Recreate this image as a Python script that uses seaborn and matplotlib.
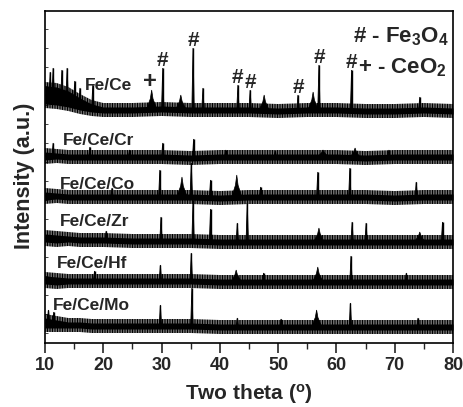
import numpy as np
import matplotlib
matplotlib.use("Agg")
import matplotlib.pyplot as plt
from matplotlib.ticker import MultipleLocator
import seaborn as sns

# ---- data (intensity in a.u., stacked) ----
grid_2theta = [10, 12, 14, 16, 18, 20, 25, 30, 35, 40, 45, 50, 55, 60, 65, 70, 75, 80]

samples = ["Fe/Ce", "Fe/Ce/Cr", "Fe/Ce/Co", "Fe/Ce/Zr", "Fe/Ce/Hf", "Fe/Ce/Mo"]

# baseline level of every pattern
base_fece = [248, 247, 244, 239, 235, 233, 233, 234, 233, 233, 233, 232, 233, 233, 232, 232, 233, 232]
base_cr = [187, 187, 186, 186, 186, 186, 186, 186, 185, 186, 186, 186, 186, 186, 185, 186, 186, 186]
base_co = [147, 147, 146, 146, 146, 146, 146, 146, 146, 145, 146, 146, 146, 146, 146, 145, 146, 146]
base_zr = [105, 104, 104, 103, 103, 103, 102, 102, 102, 101, 101, 101, 101, 101, 101, 101, 101, 101]
base_hf = [63, 62, 62, 62, 62, 62, 62, 62, 62, 61, 61, 61, 61, 61, 61, 61, 61, 61]
base_mo = [20, 19, 18, 18, 17, 17, 17, 17, 17, 16, 16, 16, 16, 16, 16, 16, 16, 16]

# half height of the noise band
noise_fece = [9, 9, 8, 6, 4, 3, 3, 3, 3, 3, 3, 3, 3, 3, 3, 3, 3, 3]
noise_cr = [4, 3, 3, 3, 3, 3, 3, 3, 3, 3, 3, 3, 3, 3, 3, 3, 3, 3]
noise_co = [4, 3, 3, 3, 3, 3, 3, 3, 3, 3, 3, 3, 3, 3, 3, 3, 3, 3]
noise_zr = [4, 4, 3, 3, 3, 3, 3, 3, 3, 3, 3, 3, 3, 3, 3, 3, 3, 3]
noise_hf = [4, 4, 3, 3, 3, 3, 3, 3, 3, 3, 3, 3, 3, 3, 3, 3, 3, 3]
noise_mo = [5, 4, 3, 3, 3, 3, 3, 3, 3, 3, 3, 3, 3, 3, 3, 3, 3, 3]

# sharp reflections / spikes: position (2theta) and top
peaks_fece_pos = [10.9, 11.4, 12.9, 13.8, 15.1, 16.0, 18.2, 30.2, 35.4, 37.1, 43.1, 45.2, 53.4, 57.0, 62.6, 74.3]
peaks_fece_top = [271, 275, 273, 275, 262, 255, 258, 275, 295, 255, 258, 253, 248, 278, 273, 246]
peaks_cr_pos = [11.4, 17.7, 24.5, 30.2, 35.5, 41.0, 49.5, 69.0]
peaks_cr_top = [200, 196, 193, 200, 204, 193, 192, 193]
peaks_co_pos = [21.5, 29.7, 35.1, 38.4, 47.0, 56.8, 62.3, 73.7]
peaks_co_top = [155, 173, 180, 163, 156, 171, 175, 161]
peaks_zr_pos = [20.5, 29.9, 35.4, 38.4, 43.0, 44.7, 62.7, 65.1, 78.2]
peaks_zr_top = [112, 126, 143, 134, 120, 140, 121, 120, 121]
peaks_hf_pos = [18.5, 29.8, 35.1, 47.5, 62.5, 72.0]
peaks_hf_top = [72, 78, 90, 70, 87, 70]
peaks_mo_pos = [10.6, 11.5, 29.8, 35.2, 43.0, 50.5, 62.4, 74.0]
peaks_mo_top = [33, 31, 38, 55, 25, 24, 40, 25]

# broad humps
humps_fece_pos = [28.3, 33.3, 47.6, 56.0]
humps_fece_top = [253, 248, 248, 251]
humps_cr_pos = [57.7, 63.2]
humps_cr_top = [193, 195]
humps_co_pos = [33.5, 42.9]
humps_co_top = [166, 168]
humps_zr_pos = [57.0, 74.3]
humps_zr_top = [115, 111]
humps_hf_pos = [42.8, 56.8]
humps_hf_top = [73, 76]
humps_mo_pos = [56.6]
humps_mo_top = [33]

# phase markers on the Fe/Ce pattern
fe3o4_marks = [30.2, 35.4, 43.1, 45.2, 53.4, 57.0, 62.6]
ceo2_marks = [28.3]

bases = [base_fece, base_cr, base_co, base_zr, base_hf, base_mo]
noises = [noise_fece, noise_cr, noise_co, noise_zr, noise_hf, noise_mo]
peak_pos = [peaks_fece_pos, peaks_cr_pos, peaks_co_pos, peaks_zr_pos, peaks_hf_pos, peaks_mo_pos]
peak_top = [peaks_fece_top, peaks_cr_top, peaks_co_top, peaks_zr_top, peaks_hf_top, peaks_mo_top]
hump_pos = [humps_fece_pos, humps_cr_pos, humps_co_pos, humps_zr_pos, humps_hf_pos, humps_mo_pos]
hump_top = [humps_fece_top, humps_cr_top, humps_co_top, humps_zr_top, humps_hf_top, humps_mo_top]

# label anchors (2theta, intensity)
label_x = [16.9, 13.1, 12.6, 12.6, 12.0, 11.4]
label_y = [253, 198, 154, 117, 75, 33]

# ---- styling ----
sns.set_theme(style="ticks")
plt.rcParams["font.family"] = ["Liberation Sans", "DejaVu Sans"]
plt.rcParams["font.weight"] = "bold"
plt.rcParams["mathtext.fontset"] = "custom"
plt.rcParams["mathtext.rm"] = "Liberation Sans:bold"
plt.rcParams["mathtext.bf"] = "Liberation Sans:bold"
plt.rcParams["mathtext.it"] = "Liberation Sans:bold"
plt.rcParams["hatch.linewidth"] = 0.9
plt.rcParams["hatch.color"] = "black"

fig = plt.figure(figsize=(4.64, 4.07), dpi=100)
ax = fig.add_axes([45 / 464, 64 / 407, 408 / 464, 332 / 407])

SHARP_W = 0.2
HUMP_W = 0.9
FRINGE = 4

for i, name in enumerate(samples):
    base = np.array(bases[i], dtype=float)
    nz = np.array(noises[i], dtype=float)
    # spiky fringe of the noise band, drawn as a vertical hatch
    ax.fill_between(grid_2theta, base - nz - FRINGE, base + nz + FRINGE,
                    facecolor="none", edgecolor="black", hatch="|" * 10, lw=0, zorder=2)
    ax.fill_between(grid_2theta, base - nz, base + nz, color="black", lw=0, zorder=3)
    sns.lineplot(x=grid_2theta, y=base, color="black", lw=1, ax=ax, zorder=3)

    for pos, top in zip(hump_pos[i], hump_top[i]):
        b = np.interp(pos, grid_2theta, base)
        ax.fill([pos - HUMP_W, pos - HUMP_W / 4, pos, pos + HUMP_W / 4, pos + HUMP_W],
                [b, (b + top) / 2 + 1, top, (b + top) / 2 + 1, b],
                color="black", lw=0.5, zorder=4)
    for pos, top in zip(peak_pos[i], peak_top[i]):
        b = np.interp(pos, grid_2theta, base)
        ax.fill([pos - SHARP_W, pos, pos + SHARP_W], [b, top, b],
                color="black", lw=0.6, zorder=4)
        ax.vlines(pos, b, top, color="black", lw=1.0, zorder=4)

    ax.text(label_x[i], label_y[i], name, fontsize=12.5, fontweight="bold",
            ha="left", va="baseline", zorder=5)

# phase markers sit on top of the Fe/Ce peaks
fece_all_pos = peaks_fece_pos + humps_fece_pos
fece_all_top = peaks_fece_top + humps_fece_top
for pos in fe3o4_marks:
    j = int(np.argmin([abs(p - pos) for p in fece_all_pos]))
    ax.text(pos, fece_all_top[j] + 2, "#", fontsize=15, fontweight="bold",
            ha="center", va="baseline", zorder=5)
for pos in ceo2_marks:
    j = int(np.argmin([abs(p - pos) for p in fece_all_pos]))
    ax.text(pos - 0.3, fece_all_top[j] + 2, "+", fontsize=17, fontweight="bold",
            ha="center", va="baseline", zorder=5)

ax.text(0.988, 0.958, r"# - Fe$_{3}$O$_{4}$", transform=ax.transAxes,
        fontsize=16, fontweight="bold", ha="right", va="top")
ax.text(0.985, 0.862, r"+ - CeO$_{2}$", transform=ax.transAxes,
        fontsize=16, fontweight="bold", ha="right", va="top")

ax.set_xlim(10, 80)
ax.set_ylim(0, 332)
ax.xaxis.set_major_locator(MultipleLocator(10))
ax.xaxis.set_minor_locator(MultipleLocator(5))
ax.set_yticks(np.arange(314, 0, -19))
ax.tick_params(axis="y", direction="in", length=2.5, width=0.6, labelleft=False)
ax.tick_params(axis="x", which="major", direction="out", length=7, width=1.2,
               labelsize=13, pad=3)
ax.tick_params(axis="x", which="minor", direction="out", length=4, width=1)
for lab in ax.get_xticklabels():
    lab.set_fontweight("bold")
for sp in ax.spines.values():
    sp.set_linewidth(1.2)
    sp.set_color("black")

ax.set_xlabel(r"Two theta ($^{\mathrm{o}}$)", fontsize=15, fontweight="bold", labelpad=6)
ax.set_ylabel("Intensity (a.u.)", fontsize=15.5, fontweight="bold")
ax.yaxis.set_label_coords(-0.025, 0.503)

fig.savefig("out.png", dpi=100)
